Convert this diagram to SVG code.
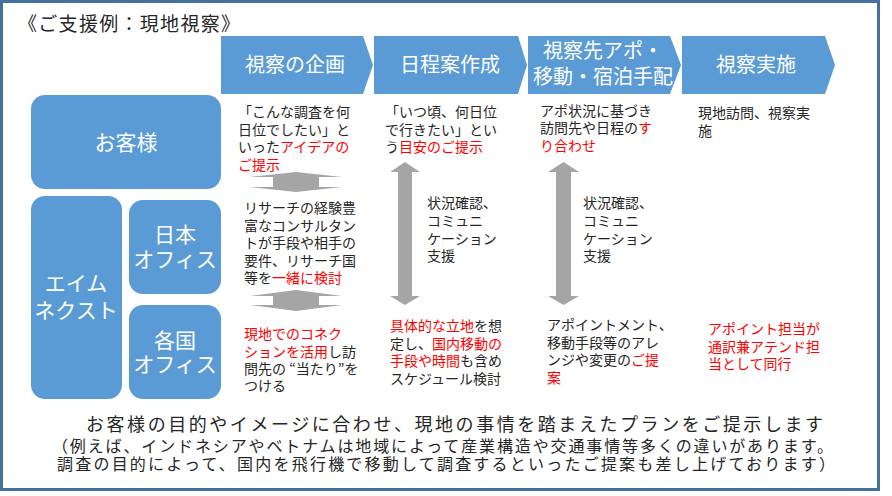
<svg xmlns="http://www.w3.org/2000/svg" width="892" height="496" viewBox="0 0 892 496">
<style>
text{font-family:"Noto Sans CJK JP","Noto Sans CJK SC",sans-serif;}
.box{fill:#5B9BD5;}
.wt{fill:#FFFFFF;font-size:21px;text-anchor:middle;}
.ht{fill:#FFFFFF;font-size:20px;text-anchor:middle;}
.bt{fill:#262626;font-size:14px;}
.r{fill:#FF0000;}
.arr{fill:#A5A5A5;}
.ft{fill:#262626;}
</style>
<rect x="1.5" y="1.5" width="877" height="488" fill="#FFFFFF" stroke="#41719C" stroke-width="3"/>
<text x="18" y="31" class="ft" font-size="19" textLength="222" lengthAdjust="spacing">《ご支援例：現地視察》</text>

<g id="step1"><path class="box" d="M221,36 H363 L373,65 L363,94 H221 Z"/><text class="ht" x="295" y="72">視察の企画</text></g>
<g id="step2"><path class="box" d="M374,36 H518 L527,65 L518,94 H374 Z"/><text class="ht" x="450" y="72">日程案作成</text></g>
<g id="step3"><path class="box" d="M528,36 H670 L681,65 L670,94 H528 Z"/><text class="ht" x="603" y="58">視察先アポ・</text><text class="ht" x="603" y="84">移動・宿泊手配</text></g>
<g id="step4"><path class="box" d="M682,36 H825 L835,65 L825,94 H682 Z"/><text class="ht" x="756" y="72">視察実施</text></g>

<g id="customer"><rect class="box" x="31" y="95" width="190" height="94" rx="14"/><text class="wt" x="126" y="150">お客様</text></g>
<g id="aimnext"><rect class="box" x="31" y="196" width="91" height="203" rx="14"/><text class="wt" x="76" y="291">エイム</text><text class="wt" x="76" y="318">ネクスト</text></g>
<g id="japan-office"><rect class="box" x="129" y="200" width="92" height="94" rx="14"/><text class="wt" x="175" y="242">日本</text><text class="wt" x="175" y="267">オフィス</text></g>
<g id="local-office"><rect class="box" x="129" y="305" width="92" height="94" rx="14"/><text class="wt" x="175" y="348">各国</text><text class="wt" x="175" y="372">オフィス</text></g>

<g id="connectors">
<path class="arr" d="M296,172 L342,177 L319,177 L319,187 L342,187 L296,192 L250,187 L273,187 L273,177 L250,177 Z"/>
<path class="arr" d="M296,290 L342,296 L319,296 L319,305 L342,305 L296,311 L250,305 L273,305 L273,296 L250,296 Z"/>
<path class="arr" d="M405,162 L420,172 L412,172 L412,296 L420,296 L405,305 L390,296 L398,296 L398,172 L390,172 Z"/>
<path class="arr" d="M563.5,162 L579,172 L571,172 L571,296 L579,296 L563.5,305 L548,296 L556,296 L556,172 L548,172 Z"/>
</g>

<g id="text-plan">
<text class="bt" x="238" y="117">「こんな調査を何</text>
<text class="bt" x="238" y="135">日位でしたい」と</text>
<text class="bt" x="238" y="152">いった<tspan class="r">アイデアの</tspan></text>
<text class="bt" x="238" y="170"><tspan class="r">ご提示</tspan></text>
</g>
<g id="text-schedule">
<text class="bt" x="385" y="117">「いつ頃、何日位</text>
<text class="bt" x="385" y="135">で行きたい」とい</text>
<text class="bt" x="385" y="152">う<tspan class="r">目安のご提示</tspan></text>
</g>
<g id="text-appo">
<text class="bt" x="540" y="116">アポ状況に基づき</text>
<text class="bt" x="540" y="133">訪問先や日程の<tspan class="r">す</tspan></text>
<text class="bt" x="540" y="151"><tspan class="r">り合わせ</tspan></text>
</g>
<g id="text-visit">
<text class="bt" x="698" y="118">現地訪問、視察実</text>
<text class="bt" x="698" y="136">施</text>
</g>
<g id="text-japan">
<text class="bt" x="244" y="213">リサーチの経験豊</text>
<text class="bt" x="244" y="231">富なコンサルタン</text>
<text class="bt" x="244" y="248">トが手段や相手の</text>
<text class="bt" x="244" y="266">要件、リサーチ国</text>
<text class="bt" x="244" y="283">等を<tspan class="r">一緒に検討</tspan></text>
</g>
<g id="label-support1">
<text class="bt" x="427" y="208">状況確認、</text>
<text class="bt" x="427" y="226">コミュニ</text>
<text class="bt" x="427" y="244">ケーション</text>
<text class="bt" x="427" y="261">支援</text>
</g>
<g id="label-support2">
<text class="bt" x="583" y="208">状況確認、</text>
<text class="bt" x="583" y="226">コミュニ</text>
<text class="bt" x="583" y="244">ケーション</text>
<text class="bt" x="583" y="261">支援</text>
</g>
<g id="text-local">
<text class="bt" x="244" y="339"><tspan class="r">現地でのコネク</tspan></text>
<text class="bt" x="244" y="357"><tspan class="r">ションを活用</tspan>し訪</text>
<text class="bt" x="244" y="374">問先の “当たり”を</text>
<text class="bt" x="244" y="391">つける</text>
</g>
<g id="text-local-schedule">
<text class="bt" x="390" y="331"><tspan class="r">具体的な立地</tspan>を想</text>
<text class="bt" x="390" y="349">定し、<tspan class="r">国内移動の</tspan></text>
<text class="bt" x="390" y="366"><tspan class="r">手段や時間</tspan>も含め</text>
<text class="bt" x="390" y="384">スケジュール検討</text>
</g>
<g id="text-local-appo">
<text class="bt" x="547" y="330">アポイントメント、</text>
<text class="bt" x="547" y="348">移動手段等のアレ</text>
<text class="bt" x="547" y="365">ンジや変更の<tspan class="r">ご提</tspan></text>
<text class="bt" x="547" y="383"><tspan class="r">案</tspan></text>
</g>
<g id="text-local-visit">
<text class="bt r" x="708" y="334">アポイント担当が</text>
<text class="bt r" x="708" y="352">通訳兼アテンド担</text>
<text class="bt r" x="708" y="369">当として同行</text>
</g>

<text x="86" y="431" class="ft" font-size="18" textLength="737" lengthAdjust="spacing">お客様の目的やイメージに合わせ、現地の事情を踏まえたプランをご提示します</text>
<text x="52" y="452" class="ft" font-size="16" textLength="781" lengthAdjust="spacing">（例えば、インドネシアやベトナムは地域によって産業構造や交通事情等多くの違いがあります。</text>
<text x="57" y="470" class="ft" font-size="16" textLength="778" lengthAdjust="spacing">調査の目的によって、国内を飛行機で移動して調査するといったご提案も差し上げております）</text>
</svg>
